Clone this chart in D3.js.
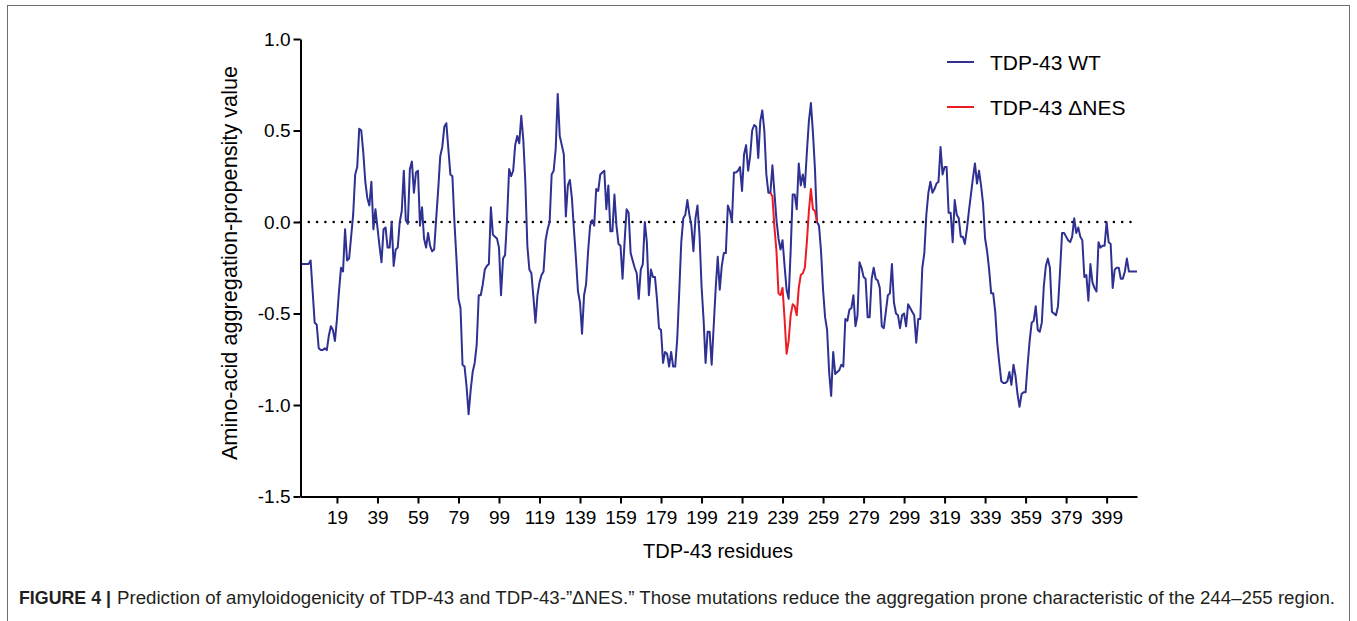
<!DOCTYPE html>
<html>
<head>
<meta charset="utf-8">
<script src="https://cdn.jsdelivr.net/npm/d3@7/dist/d3.min.js"></script>
<style>
	body { margin: 0; background: #fff; }
	svg { display: block; font-family: "Liberation Sans", Arial, Helvetica, sans-serif; }
</style>
</head>
<body>
<div id="chart"></div>
<script>
/* aggregation-propensity per residue, TDP-43 WT (residue 1..414) */
var wtValues = [
	-0.23, -0.23, -0.23, -0.23, -0.23, -0.21, -0.38, -0.55, -0.56, -0.69,
	-0.70, -0.70, -0.69, -0.70, -0.62, -0.57, -0.59, -0.65, -0.53, -0.38,
	-0.25, -0.27, -0.04, -0.21, -0.20, -0.08, 0.04, 0.26, 0.30, 0.51,
	0.50, 0.38, 0.22, 0.13, 0.09, 0.22, -0.04, 0.07, -0.03, -0.13,
	-0.22, -0.04, -0.03, -0.14, -0.14, 0.00, -0.24, -0.15, -0.14, 0.00,
	0.06, 0.28, 0.01, -0.01, 0.29, 0.33, 0.16, 0.27, 0.28, -0.02,
	0.08, -0.09, -0.14, -0.06, -0.13, -0.16, -0.15, 0.02, 0.18, 0.36,
	0.41, 0.52, 0.54, 0.40, 0.26, 0.25, 0.00, -0.20, -0.42, -0.47,
	-0.78, -0.79, -0.90, -1.05, -0.92, -0.82, -0.77, -0.67, -0.40, -0.40,
	-0.34, -0.26, -0.24, -0.23, 0.08, -0.07, -0.08, -0.09, -0.14, -0.40,
	-0.20, -0.18, 0.02, 0.29, 0.25, 0.28, 0.42, 0.47, 0.43, 0.58,
	0.45, 0.22, -0.13, -0.26, -0.28, -0.41, -0.55, -0.40, -0.33, -0.29,
	-0.27, -0.10, -0.04, 0.00, 0.26, 0.28, 0.40, 0.70, 0.47, 0.42,
	0.37, 0.03, 0.20, 0.23, 0.13, -0.04, -0.20, -0.38, -0.44, -0.61,
	-0.40, -0.34, -0.16, -0.02, 0.01, -0.02, 0.18, 0.17, 0.26, 0.27,
	0.28, 0.07, 0.20, -0.05, -0.05, 0.15, -0.02, -0.12, -0.13, -0.31,
	-0.11, 0.07, 0.05, -0.17, -0.21, -0.25, -0.28, -0.42, -0.26, -0.23,
	0.00, -0.11, -0.40, -0.26, -0.30, -0.30, -0.42, -0.58, -0.59, -0.77,
	-0.71, -0.72, -0.79, -0.71, -0.79, -0.79, -0.64, -0.38, -0.11, 0.02,
	0.04, 0.12, 0.04, -0.02, -0.16, 0.02, 0.09, -0.07, -0.35, -0.53,
	-0.77, -0.60, -0.60, -0.78, -0.57, -0.36, -0.19, -0.37, -0.24, -0.17,
	-0.17, 0.09, 0.06, 0.00, 0.27, 0.27, 0.28, 0.30, 0.17, 0.37,
	0.42, 0.28, 0.36, 0.50, 0.53, 0.52, 0.35, 0.55, 0.61, 0.50,
	0.26, 0.16, 0.16, 0.31, 0.16, 0.01, -0.09, -0.15, -0.10, -0.24,
	-0.37, -0.42, -0.16, 0.15, 0.15, 0.07, 0.32, 0.20, 0.26, 0.19,
	0.38, 0.55, 0.65, 0.49, 0.29, 0.00, -0.02, -0.16, -0.37, -0.52,
	-0.59, -0.82, -0.95, -0.71, -0.83, -0.82, -0.81, -0.78, -0.79, -0.53,
	-0.54, -0.48, -0.47, -0.40, -0.57, -0.51, -0.22, -0.25, -0.30, -0.31,
	-0.52, -0.52, -0.31, -0.25, -0.31, -0.32, -0.36, -0.57, -0.58, -0.49,
	-0.40, -0.39, -0.23, -0.44, -0.50, -0.51, -0.58, -0.51, -0.50, -0.57,
	-0.45, -0.47, -0.49, -0.51, -0.66, -0.53, -0.53, -0.25, -0.17, 0.04,
	0.16, 0.22, 0.16, 0.18, 0.21, 0.22, 0.41, 0.26, 0.30, 0.30,
	0.05, 0.05, -0.11, 0.12, 0.04, 0.02, -0.08, -0.08, -0.12, -0.04,
	0.06, 0.15, 0.24, 0.32, 0.21, 0.28, 0.20, 0.10, -0.09, -0.16,
	-0.26, -0.39, -0.39, -0.49, -0.66, -0.77, -0.87, -0.88, -0.88, -0.87,
	-0.82, -0.89, -0.78, -0.84, -0.94, -1.01, -0.94, -0.93, -0.93, -0.78,
	-0.65, -0.55, -0.54, -0.46, -0.59, -0.60, -0.55, -0.35, -0.24, -0.20,
	-0.25, -0.49, -0.50, -0.51, -0.46, -0.27, -0.06, -0.06, -0.08, -0.10,
	-0.11, -0.08, 0.02, -0.06, -0.03, -0.08, -0.10, -0.30, -0.29, -0.43,
	-0.23, -0.33, -0.36, -0.38, -0.11, -0.14, -0.13, -0.13, 0.00, -0.11,
	-0.12, -0.36, -0.26, -0.25, -0.25, -0.31, -0.31, -0.27, -0.20, -0.27,
	-0.27, -0.27, -0.27, -0.27
];

/* TDP-43 deltaNES, only where it differs from WT */
var nesResidues = [233, 234, 235, 236, 237, 238, 239, 240, 241, 242, 243, 244,
                   245, 246, 247, 248, 249, 250, 251, 252, 253, 254, 255, 256];
var nesValues = [0.16, 0.14, -0.03, -0.16, -0.39, -0.40, -0.36, -0.53, -0.72, -0.65, -0.51, -0.45,
                 -0.46, -0.51, -0.36, -0.29, -0.28, -0.25, -0.11, 0.06, 0.18, 0.07, 0.06, 0.00];

var xTicks = [19, 39, 59, 79, 99, 119, 139, 159, 179, 199, 219, 239, 259, 279, 299, 319, 339, 359, 379, 399];
var yTicks = [-1.5, -1.0, -0.5, 0.0, 0.5, 1.0];

var seriesNames = ["TDP-43 WT", "TDP-43 \u0394NES"];
var seriesColors = ["#2e3192", "#ec1c24"];

var captionBold = "FIGURE 4 |";
var captionText = "Prediction of amyloidogenicity of TDP-43 and TDP-43-\u201D\u0394NES.\u201D Those mutations reduce the aggregation prone characteristic of the 244\u2013255 region.";

var drawChart = function(htmlID) {

	var width = 1357,
	    height = 621,
	    fontSize = 19;

	var svg = d3.select(htmlID)
	            .append("svg")
	            .attr("width", width)
	            .attr("height", height);

	/* frame round the figure */
	svg.append("rect")
	    .attr("x", 7.5)
	    .attr("y", 5.5)
	    .attr("width", 1342)
	    .attr("height", 640)
	    .attr("fill", "none")
	    .attr("stroke", "#6d6e71")
	    .attr("stroke-width", 1);

	var x = d3.scaleLinear()
	          .domain([1, 414])
	          .range([300.5, 1137]);

	var y = d3.scaleLinear()
	          .domain([-1.5, 1.0])
	          .range([496.5, 39]);

	var wtData = wtValues.map(function(v, i) { return { residue: i + 1, value: v }; });
	var nesData = nesResidues.map(function(r, i) { return { residue: r, value: nesValues[i] }; });

	var line = d3.line()
	             .x(function(d) { return x(d.residue); })
	             .y(function(d) { return y(d.value); });

	/* zero reference line */
	svg.append("line")
	    .attr("x1", x(1))
	    .attr("x2", x(414))
	    .attr("y1", y(0))
	    .attr("y2", y(0))
	    .attr("stroke", "#000")
	    .attr("stroke-width", 2.6)
	    .attr("stroke-linecap", "round")
	    .attr("stroke-dasharray", "0,8.3");

	svg.append("path")
	    .datum(wtData)
	    .attr("d", line)
	    .attr("fill", "none")
	    .attr("stroke", seriesColors[0])
	    .attr("stroke-width", 2)
	    .attr("stroke-linejoin", "round");

	svg.append("path")
	    .datum(nesData)
	    .attr("d", line)
	    .attr("fill", "none")
	    .attr("stroke", seriesColors[1])
	    .attr("stroke-width", 2)
	    .attr("stroke-linejoin", "round");

	/* axes */
	var xAxis = d3.axisBottom(x)
	              .tickValues(xTicks)
	              .tickSize(7)
	              .tickSizeOuter(0)
	              .tickPadding(7);

	var yAxis = d3.axisLeft(y)
	              .tickValues(yTicks)
	              .tickSize(7)
	              .tickSizeOuter(0)
	              .tickPadding(3)
	              .tickFormat(function(d) { return d.toFixed(1); });

	var gx = svg.append("g")
	            .attr("transform", "translate(0," + y(-1.5) + ")")
	            .call(xAxis);

	var gy = svg.append("g")
	            .attr("transform", "translate(" + x(1) + ",0)")
	            .call(yAxis);

	[gx, gy].forEach(function(g) {
		g.selectAll("path, line").attr("stroke", "#000").attr("stroke-width", 2);
		g.selectAll("text")
		    .attr("fill", "#000")
		    .attr("font-size", fontSize)
		    .attr("font-family", "Liberation Sans, Arial, sans-serif");
	});

	/* axis titles */
	svg.append("text")
	    .attr("transform", "translate(237,263) rotate(-90)")
	    .attr("text-anchor", "middle")
	    .attr("font-size", 21.7)
	    .text("Amino-acid aggregation-propensity value");

	svg.append("text")
	    .attr("x", 718)
	    .attr("y", 558)
	    .attr("text-anchor", "middle")
	    .attr("font-size", 20)
	    .text("TDP-43 residues");

	/* legend */
	var legend = svg.append("g")
	                .selectAll("g")
	                .data(seriesNames)
	                .enter().append("g")
	                    .attr("transform", function(d, i) { return "translate(947," + (62 + i * 45) + ")"; });

	legend.append("line")
	    .attr("x1", 0)
	    .attr("x2", 27)
	    .attr("stroke", function(d, i) { return seriesColors[i]; })
	    .attr("stroke-width", 2);

	legend.append("text")
	    .attr("x", 43)
	    .attr("dy", "0.36em")
	    .attr("font-size", 21)
	    .text(function(d) { return d; });

	/* caption, stretched to the width it has in the figure */
	svg.append("text")
	    .attr("x", 19)
	    .attr("y", 604)
	    .attr("font-size", 17.5)
	    .attr("font-weight", "bold")
	    .attr("fill", "#231f20")
	    .attr("textLength", 92)
	    .attr("lengthAdjust", "spacingAndGlyphs")
	    .text(captionBold);

	svg.append("text")
	    .attr("x", 117)
	    .attr("y", 604)
	    .attr("font-size", 17.5)
	    .attr("fill", "#231f20")
	    .attr("textLength", 1218)
	    .attr("lengthAdjust", "spacingAndGlyphs")
	    .text(captionText);
}

drawChart("#chart");
</script>
</body>
</html>
